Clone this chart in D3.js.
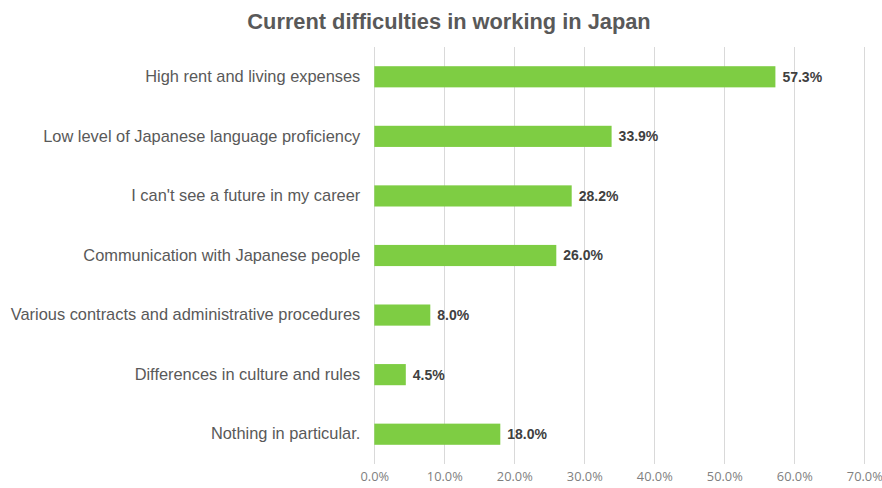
<!DOCTYPE html>
<html>
<head>
<meta charset="utf-8">
<script src="https://cdn.jsdelivr.net/npm/d3@7"></script>
<style>
  html, body { margin: 0; padding: 0; background: #fff; }
  svg { display: block; }
</style>
</head>
<body>
<svg id="chart" width="882" height="488"></svg>
<script>
const categories = [
  "High rent and living expenses",
  "Low level of Japanese language proficiency",
  "I can't see a future in my career",
  "Communication with Japanese people",
  "Various contracts and administrative procedures",
  "Differences in culture and rules",
  "Nothing in particular."
];
const values = [57.3, 33.9, 28.2, 26.0, 8.0, 4.5, 18.0];
const tickValues = [0, 10, 20, 30, 40, 50, 60, 70];
const title = "Current difficulties in working in Japan";

const svg = d3.select("#chart");
const margin = { left: 374.3, right: 18, top: 47, bottom: 24 };
const W = 882, H = 488;

const x = d3.scaleLinear().domain([0, 70]).range([margin.left, 864.3]);
const y = d3.scaleBand().domain(categories).range([margin.top, H - margin.bottom]).paddingInner(0.645).paddingOuter(0.3225);

// title
svg.append("text")
  .attr("x", 449).attr("y", 29)
  .attr("text-anchor", "middle")
  .attr("font-family", "'Liberation Sans', Arial, sans-serif")
  .attr("font-size", 21.8).attr("font-weight", "bold")
  .attr("fill", "#595959")
  .text(title);

// vertical gridlines
svg.append("g").selectAll("line").data(tickValues).join("line")
  .attr("x1", d => Math.round(x(d)) + 0.5).attr("x2", d => Math.round(x(d)) + 0.5)
  .attr("y1", margin.top).attr("y2", H - margin.bottom)
  .attr("stroke", "#d9d9d9").attr("stroke-width", 1);

// x axis tick labels
const xAxis = d3.axisBottom(x).tickValues(tickValues).tickSize(0).tickPadding(0)
  .tickFormat(d => d.toFixed(1) + "%");
const gx = svg.append("g").attr("transform", `translate(0,${H - margin.bottom + 8})`).call(xAxis);
gx.select(".domain").remove();
gx.selectAll("text")
  .attr("dy", "0.71em")
  .attr("font-family", "'Open Sans', sans-serif")
  .attr("font-size", 12.8).attr("fill", "#7f7f7f");

// category labels
const yAxis = d3.axisLeft(y).tickSize(0).tickPadding(14);
const gy = svg.append("g").attr("transform", `translate(${margin.left},0)`).call(yAxis);
gy.select(".domain").remove();
gy.selectAll("text")
  .attr("font-family", "'Liberation Sans', Arial, sans-serif")
  .attr("font-size", 16.4).attr("fill", "#595959");

// bars
svg.append("g").selectAll("rect").data(values).join("rect")
  .attr("x", x(0))
  .attr("y", (d, i) => y(categories[i]))
  .attr("width", d => x(d) - x(0))
  .attr("height", y.bandwidth())
  .attr("fill", "#7ecd43");

// value labels
svg.append("g").selectAll("text").data(values).join("text")
  .attr("x", d => x(d) + 7)
  .attr("y", (d, i) => y(categories[i]) + y.bandwidth() / 2)
  .attr("dy", "0.35em")
  .attr("font-family", "'Liberation Sans', Arial, sans-serif")
  .attr("font-size", 14).attr("font-weight", "bold")
  .attr("fill", "#404040")
  .text(d => d.toFixed(1) + "%");
</script>
</body>
</html>
